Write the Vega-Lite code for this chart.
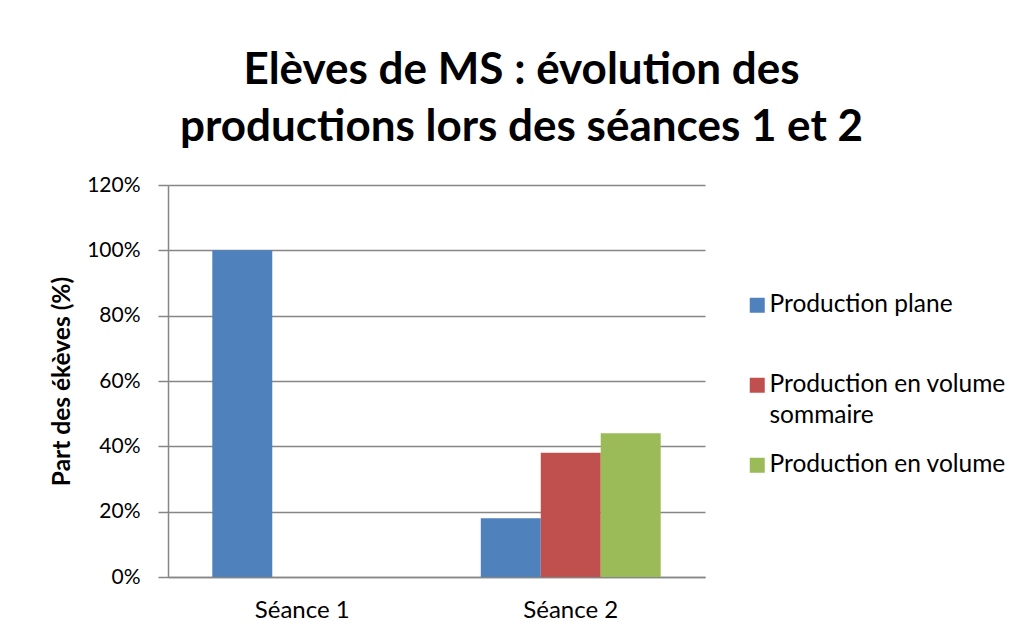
{
  "$schema": "https://vega.github.io/schema/vega-lite/v6.json",
  "autosize": {"type": "none"},
  "padding": {"left": 168, "top": 185, "right": 317, "bottom": 58},
  "width": 537,
  "height": 392,
  "background": "white",
  "config": {
    "font": "Lato",
    "view": {"stroke": null}
  },
  "title": {
    "text": ["Elèves de MS : évolution des", "productions lors des séances 1 et 2"],
    "fontSize": 44,
    "fontWeight": "bold",
    "color": "#000000",
    "anchor": "middle",
    "frame": "group",
    "dx": 85,
    "lineHeight": 57,
    "offset": 24
  },
  "data": {
    "values": [
      {"seance": "Séance 1", "type": "Production plane", "part": 1.00},
      {"seance": "Séance 2", "type": "Production plane", "part": 0.18},
      {"seance": "Séance 2", "type": "Production en volume sommaire", "part": 0.38},
      {"seance": "Séance 2", "type": "Production en volume", "part": 0.44}
    ]
  },
  "mark": {"type": "bar"},
  "encoding": {
    "x": {
      "field": "seance",
      "type": "nominal",
      "scale": {"paddingInner": 0.33, "paddingOuter": 0.165},
      "axis": {
        "title": null,
        "labelAngle": 0,
        "labelFontSize": 24,
        "labelColor": "#000000",
        "labelPadding": 21,
        "ticks": false,
        "domainColor": "#868686",
        "domainWidth": 1.5
      }
    },
    "xOffset": {
      "field": "type",
      "type": "nominal",
      "scale": {"domain": ["Production plane", "Production en volume sommaire", "Production en volume"], "paddingInner": 0, "paddingOuter": 0}
    },
    "y": {
      "field": "part",
      "type": "quantitative",
      "scale": {"domain": [0, 1.2], "nice": false},
      "axis": {
        "title": "Part des ékèves (%)",
        "titleFontSize": 24.5,
        "titleFontWeight": "bold",
        "titleColor": "#000000",
        "titlePadding": 12,
        "format": ".0%",
        "values": [0, 0.2, 0.4, 0.6, 0.8, 1.0, 1.2],
        "labelFontSize": 21,
        "labelColor": "#000000",
        "labelPadding": 18,
        "tickSize": 10,
        "tickColor": "#868686",
        "tickWidth": 1.5,
        "domainColor": "#868686",
        "domainWidth": 1.5,
        "grid": true,
        "gridColor": "#868686",
        "gridWidth": 1.5
      }
    },
    "color": {
      "field": "type",
      "type": "nominal",
      "scale": {
        "domain": ["Production plane", "Production en volume sommaire", "Production en volume"],
        "range": ["#4F81BD", "#C0504D", "#9BBB59"]
      },
      "legend": {
        "title": null,
        "orient": "none",
        "legendX": 577,
        "legendY": 108,
        "symbolType": "square",
        "symbolSize": 225,
        "symbolStrokeWidth": 0,
        "symbolOpacity": 1,
        "labelFontSize": 24.5,
        "labelColor": "#000000",
        "labelLimit": 400,
        "labelOffset": 0,
        "rowPadding": 24,
        "labelExpr": "datum.label == 'Production en volume sommaire' ? ['Production en volume', 'sommaire'] : [datum.label, ' ']",
        "encode": {
          "labels": {"update": {"lineHeight": {"value": 31}}}
        }
      }
    }
  }
}
